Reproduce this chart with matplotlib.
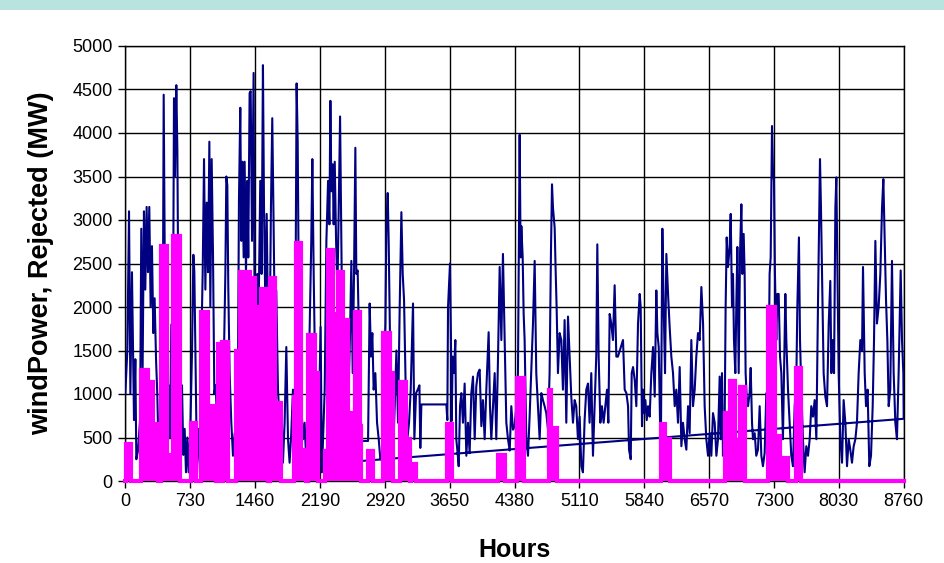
import numpy as np
import matplotlib
matplotlib.use("Agg")
import matplotlib.pyplot as plt
from matplotlib.patches import Rectangle

wind_hours = [0, 23, 42, 57, 75, 87, 98, 113, 124, 143, 166, 180, 195, 210, 225, 240, 255, 270, 285, 300,
              315, 330, 346, 360, 375, 398, 417, 432, 443, 454, 469, 488, 503, 518, 533, 548, 559, 574, 586, 597,
              608, 623, 638, 653, 668, 683, 698, 713, 732, 751, 766, 777, 792, 807, 826, 841, 856, 871, 886, 901,
              916, 931, 946, 957, 972, 987, 1002, 1017, 1032, 1051, 1073, 1088, 1107, 1126, 1137, 1148, 1159, 1174, 1193, 1212,
              1231, 1249, 1268, 1279, 1294, 1306, 1317, 1332, 1343, 1358, 1373, 1384, 1399, 1411, 1426, 1444, 1456, 1467, 1486, 1501,
              1519, 1534, 1549, 1561, 1576, 1591, 1606, 1621, 1639, 1654, 1669, 1684, 1699, 1718, 1737, 1756, 1774, 1793, 1812, 1831,
              1849, 1868, 1887, 1906, 1928, 1940, 1951, 1966, 1981, 2000, 2018, 2037, 2056, 2075, 2093, 2105, 2120, 2131, 2146, 2161,
              2180, 2198, 2213, 2225, 2244, 2263, 2282, 2297, 2308, 2319, 2334, 2345, 2357, 2372, 2387, 2402, 2417, 2428, 2439, 2454,
              2469, 2484, 2499, 2514, 2529, 2544, 2559, 2574, 2589, 2600, 2615, 2630, 2645, 2660, 2732, 2750, 2765, 2780, 2795, 2814,
              2833, 2852, 2870, 2893, 2912, 2927, 2938, 2953, 2964, 2979, 2994, 3013, 3032, 3051, 3069, 3088, 3107, 3122, 3137, 3156,
              3174, 3193, 3212, 3238, 3253, 3272, 3291, 3310, 3320, 3332, 3613, 3624, 3632, 3654, 3665, 3673, 3684, 3699, 3714, 3725,
              3740, 3752, 3767, 3782, 3800, 3819, 3838, 3857, 3875, 3894, 3913, 3932, 3950, 3969, 3988, 4007, 4025, 4044, 4063, 4089,
              4104, 4119, 4138, 4157, 4175, 4194, 4213, 4232, 4250, 4269, 4288, 4307, 4326, 4344, 4363, 4382, 4401, 4419, 4431, 4438,
              4449, 4457, 4472, 4483, 4494, 4513, 4532, 4550, 4569, 4588, 4607, 4625, 4644, 4663, 4682, 4700, 4719, 4738, 4757, 4775,
              4790, 4802, 4813, 4832, 4843, 4854, 4869, 4888, 4907, 4925, 4944, 4963, 4982, 5000, 5019, 5038, 5057, 5075, 5094, 5113,
              5132, 5150, 5169, 5188, 5207, 5225, 5244, 5263, 5282, 5300, 5312, 5327, 5346, 5364, 5383, 5402, 5421, 5436, 5451, 5469,
              5488, 5507, 5526, 5544, 5601, 5620, 5639, 5658, 5669, 5688, 5699, 5714, 5733, 5751, 5770, 5789, 5800, 5815, 5826, 5838,
              5853, 5868, 5883, 5901, 5920, 5939, 5958, 5976, 5988, 6003, 6018, 6029, 6044, 6059, 6074, 6089, 6108, 6126, 6145, 6164,
              6183, 6201, 6220, 6239, 6258, 6276, 6295, 6314, 6333, 6351, 6370, 6389, 6408, 6426, 6445, 6464, 6483, 6502, 6520, 6539,
              6558, 6577, 6595, 6614, 6633, 6652, 6670, 6689, 6700, 6715, 6726, 6745, 6756, 6768, 6783, 6801, 6813, 6828, 6839, 6850,
              6865, 6876, 6888, 6903, 6918, 6933, 6944, 6959, 6970, 6981, 6993, 7008, 7026, 7038, 7053, 7064, 7083, 7101, 7120, 7139,
              7158, 7176, 7195, 7214, 7233, 7251, 7263, 7278, 7289, 7300, 7311, 7326, 7338, 7353, 7368, 7383, 7401, 7428, 7439, 7458,
              7476, 7495, 7514, 7533, 7551, 7563, 7581, 7593, 7608, 7626, 7645, 7664, 7683, 7702, 7720, 7739, 7758, 7777, 7795, 7818,
              7829, 7841, 7859, 7878, 7897, 7916, 7934, 7946, 7961, 7976, 7991, 8002, 8013, 8028, 8047, 8066, 8084, 8103, 8122, 8141,
              8159, 8178, 8197, 8216, 8234, 8253, 8272, 8291, 8302, 8321, 8336, 8354, 8373, 8392, 8411, 8426, 8441, 8459, 8478, 8497,
              8516, 8531, 8546, 8561, 8576, 8591, 8609, 8628, 8647, 8666, 8684, 8703, 8726, 8741, 8756, 8760, 2150]
wind_mw = [1000, 1500, 3100, 1000, 2400, 1500, 700, 1400, 250, 350, 700, 2900, 1300, 3100, 2200, 3150, 2400, 3150, 2000, 2700,
           1700, 2100, 1400, 1000, 300, 800, 300, 4440, 2800, 1000, 200, 1100, 500, 1800, 900, 4400, 3500, 4550, 3800, 2000,
           1000, 700, 1100, 300, 600, 100, 500, 100, 600, 1500, 2600, 2400, 1200, 100, 600, 200, 1600, 2400, 3700, 2200,
           3200, 2400, 3900, 2000, 3700, 2600, 1000, 1100, 700, 1100, 1240, 170, 1240, 2380, 3500, 3400, 2230, 1240, 670, 290,
           550, 130, 1240, 3220, 4290, 2760, 3670, 2570, 3670, 2380, 3450, 2570, 4460, 4480, 2760, 4690, 1620, 670, 2380, 2000,
           3450, 2380, 4780, 3140, 2000, 3070, 1810, 1240, 3140, 4170, 2950, 1620, 2190, 1050, 670, 860, 210, 670, 1540, 480,
           210, 550, 1050, 290, 4570, 3900, 2380, 1430, 860, 480, 670, 210, 860, 1770, 2760, 3700, 2380, 1620, 1050, 290,
           860, 1770, 100, 480, 1050, 2760, 3450, 2950, 4370, 3330, 3640, 2950, 3670, 2760, 2190, 3140, 4190, 3140, 2000, 860,
           1850, 1240, 1810, 1050, 1700, 2530, 1240, 2380, 3830, 2380, 2420, 1620, 860, 460, 460, 2040, 1430, 1700, 1050, 1240,
           670, 480, 250, 290, 1240, 1810, 2910, 3310, 2760, 1620, 860, 320, 860, 1500, 670, 2000, 3090, 2380, 2080, 1050,
           480, 670, 1050, 2040, 480, 1010, 1050, 1100, 380, 880, 880, 700, 2000, 2500, 1620, 690, 1430, 1240, 1620, 480,
           320, 170, 860, 1010, 670, 1120, 290, 670, 320, 1010, 1200, 480, 1090, 1240, 1280, 630, 930, 480, 1050, 1710,
           860, 480, 860, 1240, 480, 1390, 2460, 1620, 2610, 1620, 670, 480, 350, 860, 590, 630, 860, 1240, 2950, 3980,
           2570, 2930, 2570, 1920, 1620, 480, 290, 740, 1280, 1810, 2530, 1240, 860, 480, 1010, 930, 860, 780, 590, 1240,
           2610, 3410, 3140, 2910, 2420, 2000, 1240, 1700, 1620, 1050, 1850, 670, 1890, 1430, 970, 670, 930, 860, 480, 740,
           170, 100, 700, 1050, 1120, 670, 1240, 290, 860, 1430, 2720, 1430, 670, 860, 670, 860, 1050, 670, 1920, 1810,
           1620, 2250, 1430, 1430, 1620, 1050, 1010, 860, 360, 250, 1240, 1310, 1160, 860, 1810, 2150, 2000, 630, 1050, 780,
           930, 700, 860, 740, 1240, 1540, 970, 2190, 1700, 1540, 670, 670, 2900, 2000, 1240, 2610, 2150, 1770, 1430, 1240,
           860, 1050, 670, 1310, 400, 670, 480, 360, 860, 550, 1620, 860, 1050, 1430, 1700, 1620, 2230, 1810, 860, 480,
           290, 550, 290, 780, 670, 290, 480, 1200, 480, 1240, 290, 670, 2000, 2800, 2460, 2690, 3070, 2000, 2380, 1620,
           1240, 2000, 2690, 1240, 2610, 3180, 2380, 2840, 2380, 1240, 970, 860, 1010, 1300, 670, 480, 550, 290, 360, 860,
           290, 170, 320, 1010, 480, 2380, 2570, 4080, 3560, 3450, 2380, 1620, 2150, 2150, 1430, 1240, 480, 2150, 1620, 1050,
           670, 290, 170, 860, 1120, 2000, 2800, 1620, 1050, 480, 100, 400, 290, 480, 860, 740, 930, 480, 2000, 3700,
           3140, 2380, 1240, 970, 860, 1810, 2300, 1240, 1620, 1240, 3140, 3490, 2570, 1240, 480, 210, 930, 670, 170, 480,
           360, 210, 400, 480, 670, 1240, 1620, 1500, 2460, 1240, 860, 1050, 170, 290, 860, 1620, 2760, 1810, 2000, 2380,
           3140, 3470, 2760, 2080, 1620, 860, 1050, 2530, 1240, 670, 480, 1240, 2420, 1620, 1240, 715, 190]

# rejected wind power (MW): start hour, end hour, level of each burst
rej_start = [12, 180, 255, 312, 406, 473, 537, 736, 856, 931, 1043, 1088, 1249, 1287, 1399, 1456, 1531, 1624, 1681, 1898,
             1924, 1981, 2056, 2139, 2244, 2282, 2338, 2394, 2450, 2507, 2582, 2638, 2732, 2900, 2976, 3088, 3163, 3219,
             3624, 4194, 4412, 4764, 4794, 6025, 6070, 6745, 6801, 6858, 6914, 7233, 7308, 7364, 7544]
rej_end = [68, 255, 312, 368, 473, 537, 612, 800, 931, 1025, 1100, 1156, 1287, 1399, 1456, 1531, 1606, 1681, 1756, 1924,
           1973, 2037, 2131, 2168, 2282, 2338, 2394, 2450, 2507, 2582, 2638, 2657, 2788, 2976, 3013, 3163, 3200, 3276,
           3677, 4269, 4487, 4794, 4862, 6070, 6126, 6801, 6858, 6914, 6970, 7308, 7364, 7458, 7608]
rej_mw = [420, 1280, 1140, 660, 2700, 300, 2820, 670, 1940, 860, 1580, 1600, 1500, 2400, 2330, 2000, 2210, 2330, 900, 970,
          2740, 360, 1680, 1240, 350, 2650, 1920, 2400, 1850, 780, 1940, 630, 340, 1700, 1240, 1140, 480, 190,
          650, 300, 1180, 1050, 610, 650, 480, 780, 1150, 470, 1080, 2000, 515, 265, 1300]

xticks = [0, 730, 1460, 2190, 2920, 3650, 4380, 5110, 5840, 6570, 7300, 8030, 8760]
yticks = [0, 500, 1000, 1500, 2000, 2500, 3000, 3500, 4000, 4500, 5000]

# step outline of the rejected bursts, back to zero between them
rx, ry = [0], [0]
for s, e, v in zip(rej_start, rej_end, rej_mw):
    if rx[-1] != s:
        rx += [rx[-1], s]
        ry += [0, 0]
    rx += [s, e]
    ry += [v, v]
rx += [rx[-1], 8760]
ry += [0, 0]

plt.rcParams['font.family'] = ['Liberation Sans', 'DejaVu Sans']

fig = plt.figure(figsize=(9.45, 5.63), dpi=100)
fig.patch.set_facecolor('white')
fig.patches.append(Rectangle((0, 1 - 10 / 563), 1, 10 / 563, transform=fig.transFigure,
                             facecolor='#b9e3df', edgecolor='none'))
ax = fig.add_axes([125.3 / 945, 1 - 481 / 563, 778.4 / 945, 435 / 563])

ax.plot(wind_hours, wind_mw, color='#000080', lw=1.5, zorder=3)
ax.fill_between(rx, ry, 0, color='#ff00ff', lw=0, zorder=4)
ax.plot(rx, ry, color='#ff00ff', lw=3.0, zorder=5, clip_on=False, solid_joinstyle='miter')

ax.set_xlim(0, 8760)
ax.set_ylim(0, 5000)
ax.set_xticks(xticks)
ax.set_yticks(yticks)
ax.grid(True, color='black', lw=1.0)
ax.set_axisbelow(True)
for sp in ax.spines.values():
    sp.set_color('black')
    sp.set_linewidth(1.0)
ax.tick_params(direction='out', length=5, width=1, colors='black', labelsize=13, pad=4)

ax.set_xlabel('Hours', fontsize=18, fontweight='bold', labelpad=20)
ax.set_ylabel('windPower, Rejected (MW)', fontsize=19.5, fontweight='bold', labelpad=13)

fig.savefig('out.png', dpi=100)
